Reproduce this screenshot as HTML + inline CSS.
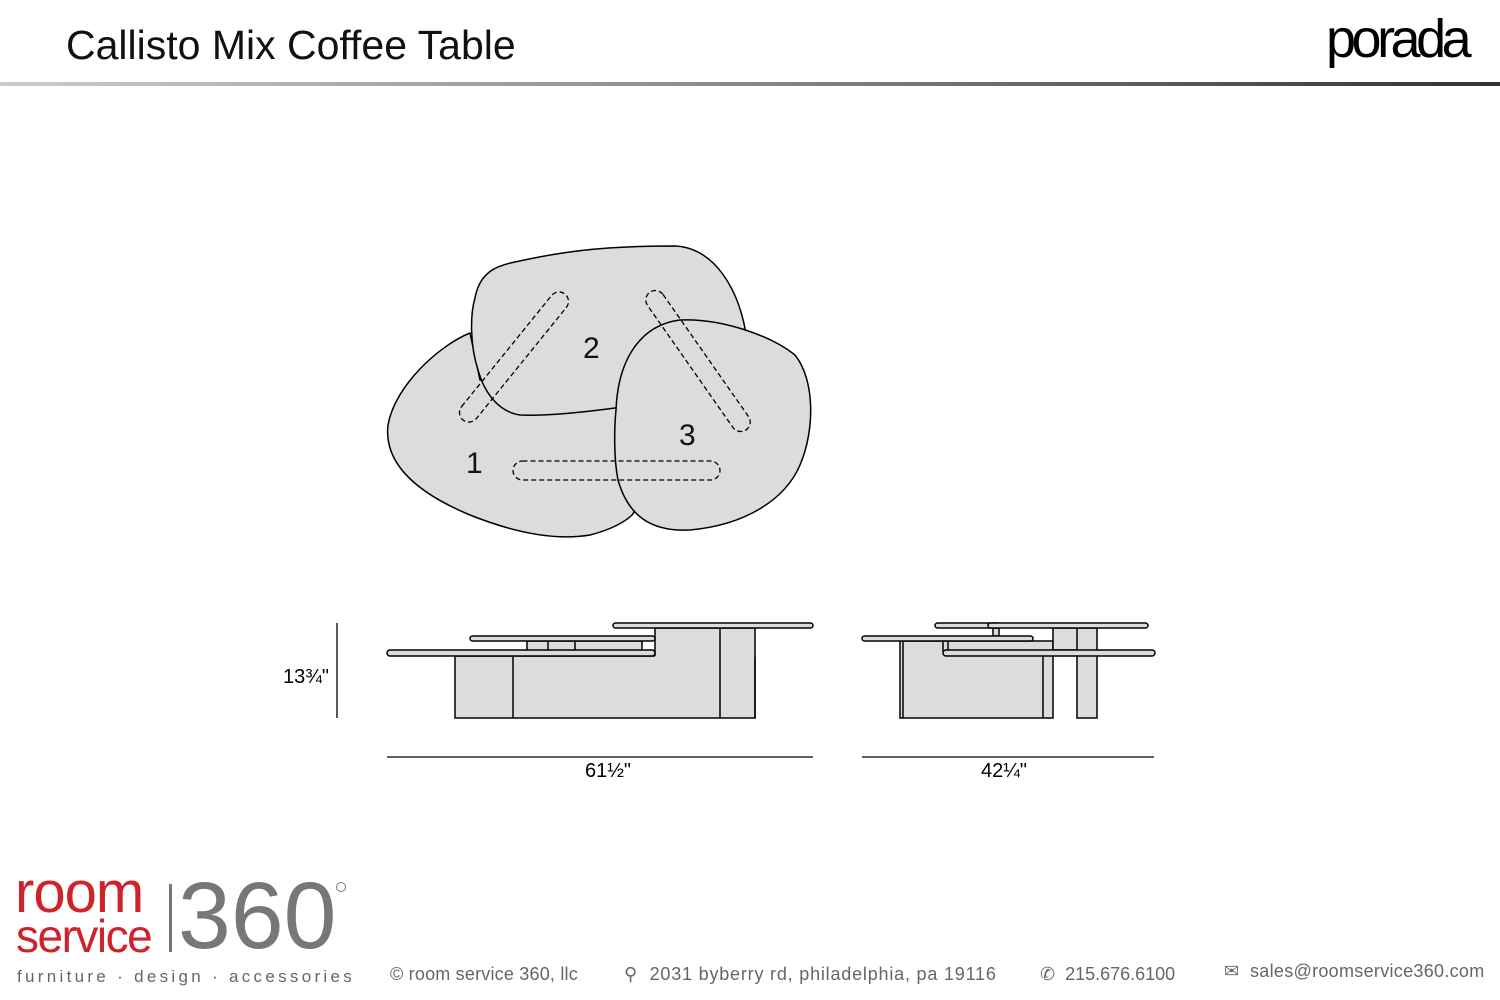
<!DOCTYPE html>
<html><head><meta charset="utf-8"><style>
body{margin:0;width:1500px;height:1000px;background:#fff;position:relative;overflow:hidden;font-family:"Liberation Sans",sans-serif}
.a{position:absolute;white-space:nowrap}
</style></head><body>
<div class="a" style="left:66px;top:22px;font-size:41px;color:#111">Callisto Mix Coffee Table</div>
<div class="a" style="left:1326px;top:8px;font-size:54px;letter-spacing:-4.5px;color:#000">porada</div>
<div class="a" style="left:0;top:82px;width:1500px;height:4px;background:linear-gradient(to right,#ccc,#888 50%,#333)"></div>
<svg class="a" style="left:0;top:0" width="1500" height="1000">
<g fill="#dcdcdc" stroke="#000" stroke-width="1.5">
<path d="M470,333 C440,345 395,385 388,425 C384,460 410,490 470,515 C520,535 560,540 590,535 C610,530 625,522 632,515 L700,420 L480,380 Z"/>
<path d="M475,298 C480,270 500,265 515,262 C560,252 600,246 675,246 C715,248 740,290 747,340 L700,400 L615,408 C570,414 540,416 520,415 C500,412 485,395 478,370 C470,345 470,315 475,298 Z"/>
<path d="M616,410 C618,360 640,325 680,320 C720,318 770,335 795,355 C815,380 815,430 800,465 C785,500 745,525 690,530 C650,532 628,515 618,480 C614,460 614,430 616,410 Z"/>
</g>
<g fill="none" stroke="#000" stroke-width="1.3" stroke-dasharray="5,3">
<rect x="513" y="461" width="207" height="19" rx="9.5"/>
<rect x="-81" y="-9.5" width="162" height="19" rx="9.5" transform="translate(514,357) rotate(-51)"/>
<rect x="-84" y="-9.5" width="168" height="19" rx="9.5" transform="translate(698,361) rotate(55)"/>
</g>
<g font-size="30" fill="#111" font-family="Liberation Sans,sans-serif">
<text x="466" y="473">1</text><text x="583" y="358">2</text><text x="679" y="445">3</text>
</g>
<g fill="#dcdcdc" stroke="#000" stroke-width="1.5">
<rect x="455" y="656" width="300" height="62"/>
<rect x="655" y="628" width="100" height="30" stroke="none"/>
<path d="M655,656 L655,628 L755,628 L755,718" fill="none"/>
<rect x="527" y="641" width="115" height="10"/>
<line x1="548" y1="641" x2="548" y2="651"/><line x1="575" y1="641" x2="575" y2="651"/>
<line x1="513" y1="656" x2="513" y2="718"/><line x1="720" y1="628" x2="720" y2="718"/>
<rect x="613" y="623" width="200" height="5" rx="2.5"/>
<rect x="470" y="636" width="185" height="5" rx="2.5"/>
<rect x="387" y="650" width="268" height="6" rx="3"/>
<rect x="900" y="641" width="153" height="77"/>
<line x1="903" y1="641" x2="903" y2="718"/><line x1="1043" y1="656" x2="1043" y2="718"/>
<rect x="1053" y="628" width="25" height="22"/>
<rect x="1077" y="628" width="20" height="90"/>
<rect x="993" y="628" width="6" height="8"/>
<rect x="943" y="641" width="5" height="10"/>
<rect x="935" y="623" width="65" height="5" rx="2.5"/>
<rect x="988" y="623" width="160" height="5" rx="2.5"/>
<rect x="862" y="636" width="171" height="5" rx="2.5"/>
<rect x="943" y="650" width="212" height="6" rx="3"/>
</g>
<g stroke="#000" stroke-width="1.3">
<line x1="337" y1="623" x2="337" y2="718"/>
<line x1="387" y1="757" x2="813" y2="757"/>
<line x1="862" y1="757" x2="1154" y2="757"/>
</g>
</svg>
<div class="a" style="left:283px;top:666px;font-size:20px">13¾"</div>
<div class="a" style="left:585px;top:760px;font-size:20px">61½"</div>
<div class="a" style="left:981px;top:760px;font-size:20px">42¼"</div>
<div class="a" style="left:15px;top:870px;font-size:58px;line-height:46px;color:#d0222a;letter-spacing:-1px">room</div>
<div class="a" style="left:16px;top:914px;font-size:46px;line-height:44px;color:#d0222a;letter-spacing:-1.5px">service</div>
<div class="a" style="left:169px;top:884px;width:3px;height:68px;background:#777"></div>
<div class="a" style="left:178px;top:866px;font-size:95px;line-height:100px;color:#777;letter-spacing:0px">360</div>
<div class="a" style="left:336px;top:882px;width:8px;height:8px;border:1.5px solid #777;border-radius:50%"></div>
<div class="a" style="left:17px;top:967px;font-size:17px;letter-spacing:3.3px;color:#666">furniture <span style="color:#d0222a">·</span> design <span style="color:#d0222a">·</span> accessories</div>
<div class="a" style="left:390px;top:964px;font-size:18px;color:#666;letter-spacing:0.2px">© room service 360, llc</div>
<div class="a" style="left:624px;top:964px;font-size:18px;color:#666;letter-spacing:0.8px">⚲ &nbsp;2031 byberry rd, philadelphia, pa 19116</div>
<div class="a" style="left:1040px;top:964px;font-size:18px;color:#666">✆ &nbsp;215.676.6100</div>
<div class="a" style="left:1224px;top:961px;font-size:18px;color:#666;letter-spacing:0.3px">✉ &nbsp;sales@roomservice360.com</div>
</body></html>
